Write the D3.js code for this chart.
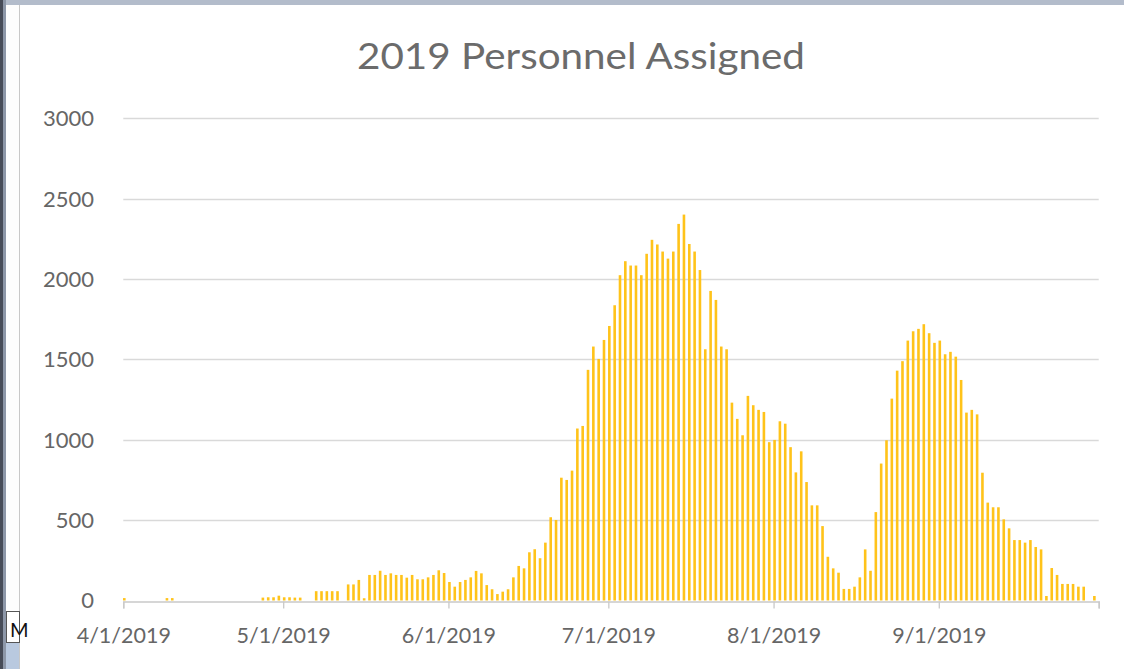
<!DOCTYPE html>
<html>
<head>
<meta charset="utf-8">
<script src="https://cdn.jsdelivr.net/npm/d3@7"></script>
<style>
    html, body { margin: 0; padding: 0; background: #fff; }
    svg { display: block; }
    text { font-family: Lato, "Open Sans", sans-serif; fill: #666; }
</style>
</head>
<body>
<svg id="chart" width="1124" height="669"></svg>
<script>
// Daily personnel counts, one array per month (starting 4/1/2019)
let april = [15, 0, 0, 0, 0, 0, 0, 0, 15, 15, 0, 0, 0, 0, 0, 0, 0, 0, 0, 0,
    0, 0, 0, 0, 0, 0, 18, 20, 20, 30];
let may = [20, 20, 18, 18, 0, 0, 58, 58, 58, 58, 58, 0, 100, 100, 128, 14, 159, 159, 185, 159,
    169, 159, 159, 142, 159, 132, 132, 144, 159, 188, 171];
let june = [115, 86, 115, 128, 144, 184, 169, 96, 70, 40, 55, 70, 144, 215, 200, 300, 319, 263, 360, 518,
    501, 764, 750, 808, 1070, 1086, 1435, 1580, 1503, 1621];
let july = [1708, 1837, 2024, 2111, 2084, 2084, 2024, 2157, 2244, 2215, 2171, 2127, 2171, 2343, 2401, 2218, 2171, 2056, 1563, 1926,
    1870, 1580, 1563, 1231, 1130, 1028, 1273, 1215, 1186, 1173, 985];
let august = [999, 1115, 1100, 954, 797, 928, 737, 592, 592, 463, 272, 200, 173, 72, 72, 86, 144, 318, 185, 550,
    852, 997, 1256, 1430, 1489, 1617, 1675, 1690, 1719, 1663, 1603];
let september = [1617, 1532, 1547, 1517, 1372, 1169, 1186, 1158, 795, 609, 580, 580, 505, 449, 376, 376, 360, 376, 333, 318,
    28, 202, 159, 103, 103, 103, 86, 86, 0, 28];

let yTicks = [0, 500, 1000, 1500, 2000, 2500, 3000];
let title = '2019 Personnel Assigned';

let startDate = new Date(2019, 3, 1);
let endDate = new Date(2019, 9, 1);

let values = [].concat(april, may, june, july, august, september);
let data = values.map(function(v, i) {
    return { date: d3.timeDay.offset(startDate, i), value: v };
});

let svg = d3.select('#chart');

// Window frame bits around the chart
svg.append('rect').attr('x', 0).attr('y', 0).attr('width', 1124).attr('height', 5).attr('fill', '#b3bccb');
svg.append('rect').attr('x', 0).attr('y', 0).attr('width', 3).attr('height', 669).attr('fill', '#474c58');
svg.append('rect').attr('x', 3).attr('y', 0).attr('width', 3).attr('height', 669).attr('fill', '#8d97a8');
svg.append('rect').attr('x', 6).attr('y', 5).attr('width', 13).attr('height', 605).attr('fill', '#fdfdfd');
svg.append('line').attr('x1', 19.5).attr('x2', 19.5).attr('y1', 5).attr('y2', 669).attr('stroke', '#c8c8c8');
svg.append('rect').attr('x', 6).attr('y', 643).attr('width', 13).attr('height', 26).attr('fill', '#b9c9df');
svg.append('rect').attr('x', 6.5).attr('y', 611.5).attr('width', 13).attr('height', 31)
    .attr('fill', '#fff').attr('stroke', '#555');
svg.append('text').attr('x', 10).attr('y', 637).attr('font-size', 20).style('fill', '#111').text('M');

let x = d3.scaleTime().domain([startDate, endDate]).range([123.3, 1098.7]);
let y = d3.scaleLinear().domain([0, 3000]).range([600.5, 118.3]);

let barWidth = 2.6;

// Gridlines
svg.append('g').selectAll('line')
    .data(yTicks.slice(1))
    .enter().append('line')
    .attr('x1', x.range()[0])
    .attr('x2', x.range()[1])
    .attr('y1', d => Math.round(y(d)) + 0.5)
    .attr('y2', d => Math.round(y(d)) + 0.5)
    .attr('stroke', '#d9d9d9')
    .attr('stroke-width', 1.3);

// Y labels
svg.append('g').selectAll('text')
    .data(yTicks)
    .enter().append('text')
    .attr('x', 94)
    .attr('y', d => y(d))
    .attr('dy', '0.36em')
    .attr('text-anchor', 'end')
    .attr('font-size', 22)
    .text(d => d);

// Bars
svg.append('g').selectAll('rect')
    .data(data.filter(d => d.value > 0))
    .enter().append('rect')
    .attr('x', d => x(d.date) + 1 - barWidth / 2)
    .attr('y', d => y(d.value))
    .attr('width', barWidth)
    .attr('height', d => y(0) - y(d.value))
    .attr('fill', '#ffc31a');

// X axis
let xAxis = d3.axisBottom(x)
    .ticks(d3.timeMonth.every(1))
    .tickSize(7)
    .tickPadding(19)
    .tickFormat(function(d) {
        return d >= endDate ? '' : d3.timeFormat('%-m/%-d/%Y')(d);
    });

let gx = svg.append('g')
    .attr('transform', 'translate(0,' + (Math.round(y(0)) + 0.5) + ')')
    .call(xAxis);

gx.select('.domain').attr('stroke', '#c9c9c9').attr('stroke-width', 1.3);
gx.selectAll('.tick line').attr('stroke', '#c9c9c9').attr('stroke-width', 1.3);
gx.selectAll('.tick text')
    .attr('font-size', 21.5)
    .attr('font-family', 'Lato, sans-serif')
    .style('fill', '#666');

// Title
svg.append('text')
    .attr('x', 581)
    .attr('y', 69)
    .attr('text-anchor', 'middle')
    .attr('font-size', 36)
    .attr('textLength', 448)
    .attr('lengthAdjust', 'spacingAndGlyphs')
    .style('fill', '#6b6b6b')
    .text(title);
</script>
</body>
</html>
